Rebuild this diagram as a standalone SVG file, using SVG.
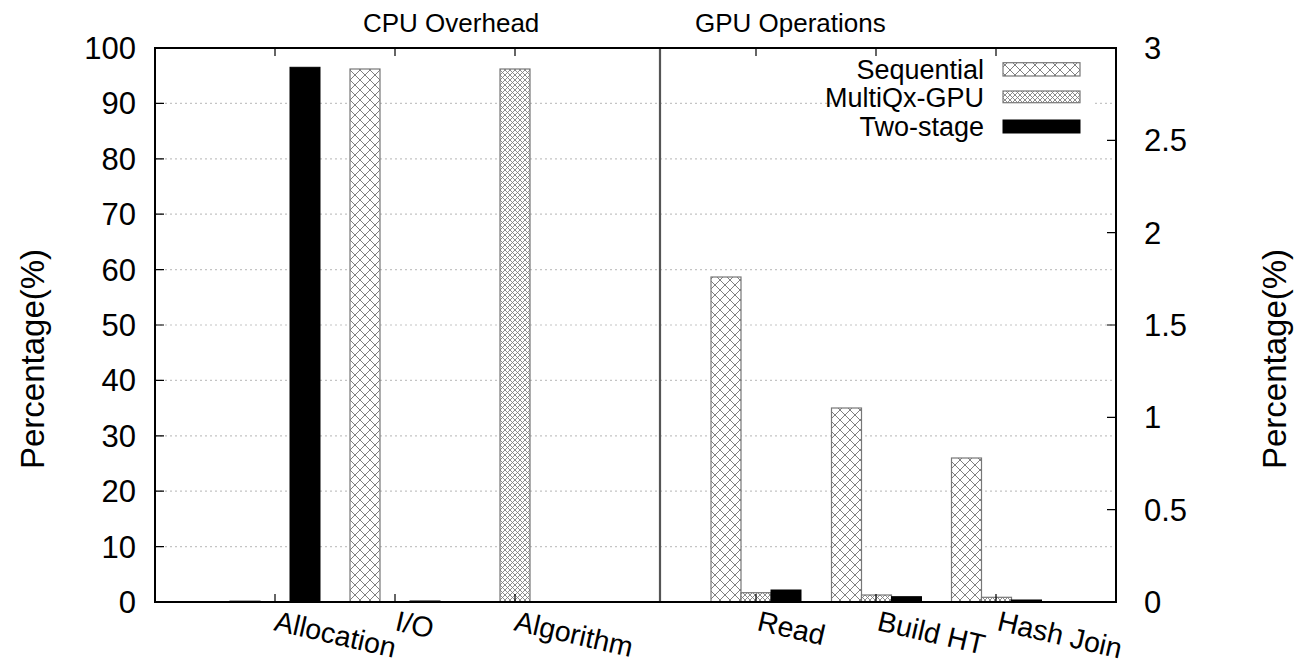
<svg xmlns="http://www.w3.org/2000/svg" width="1301" height="663" viewBox="0 0 1301 663">
<style>
text{font-family:"Liberation Sans",Arial,sans-serif;font-size:27px;fill:#000}
.grid{stroke:#c4c4c4;stroke-width:1.2;stroke-dasharray:2,3;fill:none}
.tick{stroke:#000;stroke-width:1.2}
.seq{fill:url(#pSeq);stroke:#777;stroke-width:1.2}
.mq{fill:url(#pMq);stroke:#777;stroke-width:1.2}
.two{fill:#000;stroke:#000;stroke-width:1}
.border{fill:none;stroke:#000;stroke-width:2}
.yl{text-anchor:end}
.num{font-size:31px}
.ttl{font-size:26px}
.xl{font-size:28.5px}
.ax{font-size:33px;text-anchor:middle}
</style>
<defs>
<pattern id="pSeq" patternUnits="userSpaceOnUse" width="10" height="10">
<rect width="10" height="10" fill="#fff"/>
<path d="M0,0L10,10M10,0L0,10" stroke="#808080" stroke-width="1"/>
</pattern>
<pattern id="pMq" patternUnits="userSpaceOnUse" width="5" height="5">
<rect width="5" height="5" fill="#fff"/>
<path d="M0,0L5,5M5,0L0,5" stroke="#808080" stroke-width="0.9"/>
</pattern>
</defs>
<rect width="1301" height="663" fill="#fff"/>
<g id="grid">
<path class="grid" d="M155,546.6H1116M155,491.2H1116M155,435.8H1116M155,380.4H1116M155,325H1116M155,269.6H1116M155,214.2H1116M155,158.8H1116M155,103.4H1116"/>
</g>
<g id="titles">
<text class="ttl" x="363" y="32">CPU Overhead</text>
<text class="ttl" x="695" y="32">GPU Operations</text>
</g>
<g id="bars-cpu">
<rect class="seq" x="230" y="601" width="30" height="1"/>
<rect class="two" x="290" y="67.3" width="30" height="534.7"/>
<rect class="seq" x="350" y="69" width="30" height="533"/>
<rect class="two" x="410" y="601" width="30" height="1"/>
<rect class="mq" x="500" y="69" width="30" height="533"/>
</g>
<g id="bars-gpu">
<rect class="seq" x="711" y="277" width="30" height="325"/>
<rect class="mq" x="741" y="592.7" width="30" height="9.3"/>
<rect class="two" x="771" y="590" width="30" height="12"/>
<rect class="seq" x="831.5" y="408" width="30" height="194"/>
<rect class="mq" x="861.5" y="595" width="30" height="7"/>
<rect class="two" x="891.5" y="596.7" width="30" height="5.3"/>
<rect class="seq" x="951.5" y="458" width="30" height="144"/>
<rect class="mq" x="981.5" y="597.3" width="30" height="4.7"/>
<rect class="two" x="1011.5" y="600" width="30" height="2"/>
</g>
<g id="legend">
<rect x="835" y="55" width="258" height="88" fill="#fff"/>
<text class="yl" x="984" y="79">Sequential</text>
<rect class="seq" x="1003" y="62.7" width="77" height="13.3"/>
<text class="yl" x="984" y="107">MultiQx-GPU</text>
<rect class="mq" x="1003" y="91" width="77" height="11.7"/>
<text class="yl" x="984" y="136">Two-stage</text>
<rect class="two" x="1003" y="120" width="77" height="13"/>
</g>
<g id="axes">
<path class="tick" d="M155,546.6h9M155,491.2h9M155,435.8h9M155,380.4h9M155,325h9M155,269.6h9M155,214.2h9M155,158.8h9M155,103.4h9"/>
<path class="tick" d="M1116,509.7h-9M1116,417.3h-9M1116,325h-9M1116,232.7h-9M1116,140.3h-9"/>
<path class="tick" d="M275,602v-8M395,602v-8M515,602v-8M756,602v-8M876,602v-8M996,602v-8M275,48v8M395,48v8M515,48v8M756,48v8M876,48v8M996,48v8"/>
<line x1="660" y1="48" x2="660" y2="602" stroke="#555" stroke-width="2.2"/>
<rect class="border" x="155" y="48" width="961" height="554"/>
</g>
<g id="yaxis-left">
<text class="yl num" x="136" y="613">0</text>
<text class="yl num" x="136" y="557.6">10</text>
<text class="yl num" x="136" y="502.2">20</text>
<text class="yl num" x="136" y="446.8">30</text>
<text class="yl num" x="136" y="391.4">40</text>
<text class="yl num" x="136" y="336">50</text>
<text class="yl num" x="136" y="280.6">60</text>
<text class="yl num" x="136" y="225.2">70</text>
<text class="yl num" x="136" y="169.8">80</text>
<text class="yl num" x="136" y="114.4">90</text>
<text class="yl num" x="136" y="59">100</text>
<text class="ax" transform="translate(44,359) rotate(-90)">Percentage(%)</text>
</g>
<g id="yaxis-right">
<text class="num" x="1144" y="613">0</text>
<text class="num" x="1144" y="520.7">0.5</text>
<text class="num" x="1144" y="428.3">1</text>
<text class="num" x="1144" y="336">1.5</text>
<text class="num" x="1144" y="243.7">2</text>
<text class="num" x="1144" y="151.3">2.5</text>
<text class="num" x="1144" y="59">3</text>
<text class="ax" transform="translate(1286,359) rotate(-90)">Percentage(%)</text>
</g>
<g id="xlabels">
<text class="xl" transform="translate(273,630) rotate(13)">Allocation</text>
<text class="xl" transform="translate(394,630) rotate(13)">I/O</text>
<text class="xl" transform="translate(513,630) rotate(13)">Algorithm</text>
<text class="xl" transform="translate(756,630) rotate(13)">Read</text>
<text class="xl" transform="translate(876,630) rotate(13)">Build HT</text>
<text class="xl" transform="translate(996,630) rotate(13)">Hash Join</text>
</g>
</svg>
